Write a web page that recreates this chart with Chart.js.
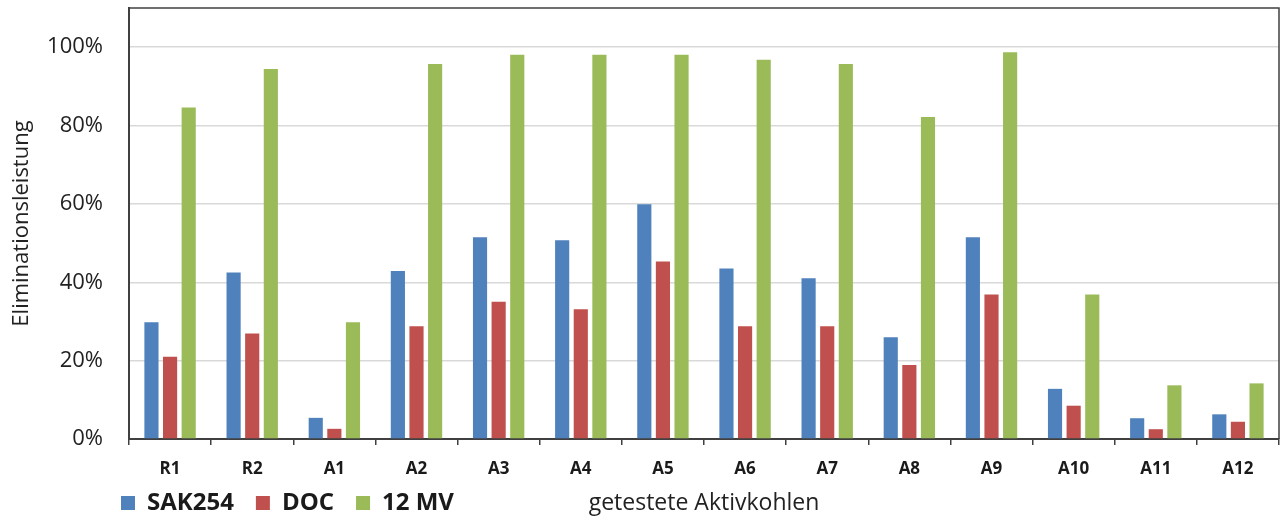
<!DOCTYPE html>
<html lang="de">
<head>
<meta charset="UTF-8">
<title>Eliminationsleistung</title>
<script src="https://cdn.jsdelivr.net/npm/chart.js"></script>
<style>
  html, body { margin: 0; padding: 0; background: #fff; }
  #wrap { width: 1282px; height: 517px; }
</style>
</head>
<body>
<div id="wrap"><canvas id="myChart"></canvas></div>
<script>
// Kategorien und Messwerte (in %)
const kategorien = ['R1', 'R2', 'A1', 'A2', 'A3', 'A4', 'A5', 'A6', 'A7', 'A8', 'A9', 'A10', 'A11', 'A12'];
const sak254 = [29.8, 42.5, 5.4, 42.9, 51.5, 50.7, 59.9, 43.5, 41.0, 26.0, 51.5, 12.8, 5.3, 6.3];
const doc = [21.0, 26.9, 2.6, 28.8, 35.0, 33.1, 45.3, 28.8, 28.8, 18.9, 36.9, 8.5, 2.5, 4.4];
const mv12 = [84.6, 94.4, 29.8, 95.7, 98.1, 98.1, 98.1, 96.8, 95.7, 82.2, 98.7, 36.9, 13.7, 14.2];
const yTicks = [0, 20, 40, 60, 80, 100];

const FONT = "'Open Sans', sans-serif";
const AXIS = '#404040';

// Rahmen oben/rechts, Legende verschieben, x-Achsentitel neben die Legende
const rahmenPlugin = {
    id: 'rahmen',
    beforeDraw(chart) {
        if (chart.legend) {
            chart.legend.left = 99;
            chart.legend.top = 469;
        }
    },
    afterDraw(chart) {
        const ctx = chart.ctx;
        const a = chart.chartArea;
        ctx.save();
        ctx.strokeStyle = AXIS;
        ctx.lineWidth = 1.5;
        ctx.beginPath();
        ctx.moveTo(a.left, a.top);
        ctx.lineTo(a.right, a.top);
        ctx.lineTo(a.right, a.bottom);
        ctx.stroke();
        ctx.fillStyle = '#222';
        ctx.font = '23px ' + FONT;
        ctx.textAlign = 'center';
        ctx.textBaseline = 'alphabetic';
        ctx.fillText('getestete Aktivkohlen', (a.left + a.right) / 2, 510);
        ctx.restore();
    }
};

const config = {
    type: 'bar',
    data: {
        labels: kategorien,
        datasets: [
            { label: 'SAK254', data: sak254, backgroundColor: '#4F81BD', borderWidth: 0 },
            { label: 'DOC', data: doc, backgroundColor: '#C0504D', borderWidth: 0 },
            { label: '12 MV', data: mv12, backgroundColor: '#9BBB59', borderWidth: 0 }
        ]
    },
    options: {
        responsive: true,
        maintainAspectRatio: false,
        animation: false,
        layout: { padding: { left: 0, right: 3, top: 8, bottom: 0 } },
        datasets: {
            bar: { categoryPercentage: 0.68, barPercentage: 0.76 }
        },
        plugins: {
            legend: {
                position: 'bottom',
                align: 'start',
                maxHeight: 38,
                labels: {
                    boxWidth: 14,
                    boxHeight: 14,
                    padding: 22,
                    color: '#1a1a1a',
                    font: { family: FONT, size: 24, weight: 'bold' }
                }
            },
            tooltip: { enabled: false }
        },
        scales: {
            x: {
                afterFit(scale) { scale.height = 40; },
                grid: {
                    offset: true,
                    drawOnChartArea: false,
                    drawTicks: true,
                    tickLength: 6,
                    color: AXIS,
                    lineWidth: 1.5
                },
                border: { color: AXIS, width: 2 },
                ticks: {
                    padding: 14,
                    color: '#1a1a1a',
                    font: { family: FONT, size: 17, weight: 'bold' }
                }
            },
            y: {
                min: 0,
                max: 110,
                afterFit(scale) {
                    scale.width = 129;
                    scale.paddingTop = 0;
                    scale.paddingBottom = 0;
                },
                afterBuildTicks(scale) {
                    scale.ticks = yTicks.map(v => ({ value: v }));
                },
                grid: { color: '#d9d9d9', lineWidth: 1.5, drawTicks: false },
                border: { color: AXIS, width: 2 },
                ticks: {
                    padding: 26,
                    color: '#222',
                    font: { family: FONT, size: 22 },
                    callback: v => v + '%'
                },
                title: {
                    display: true,
                    text: 'Eliminationsleistung',
                    color: '#222',
                    padding: { top: 9, bottom: 0 },
                    font: { family: FONT, size: 22 }
                }
            }
        }
    },
    plugins: [rahmenPlugin]
};

let myChart = new Chart(document.getElementById('myChart'), config);
</script>
</body>
</html>
